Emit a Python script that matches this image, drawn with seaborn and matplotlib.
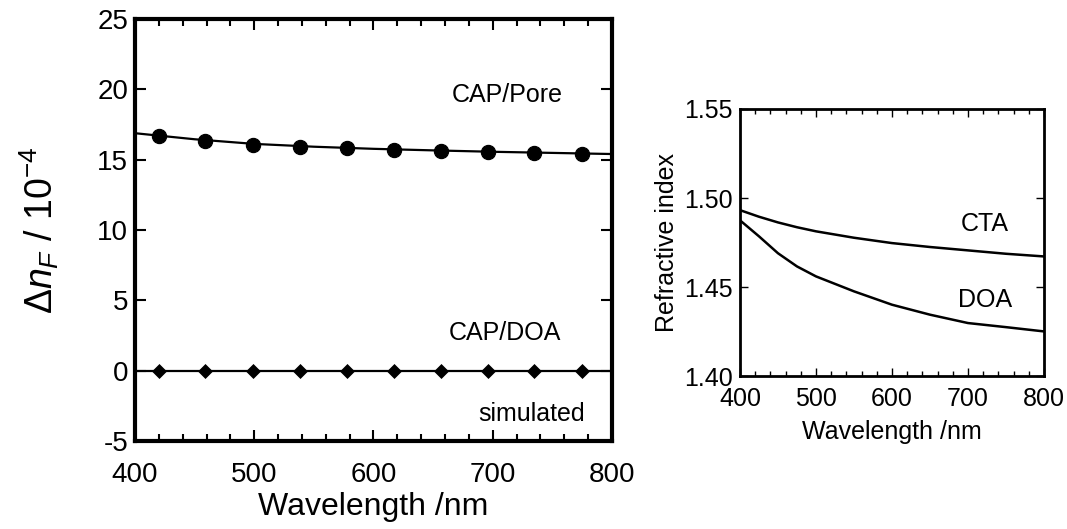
import matplotlib
matplotlib.use("Agg")
import matplotlib.pyplot as plt
import seaborn as sns
import pandas as pd
from matplotlib.ticker import MultipleLocator

# ---- Left panel data ----
wl_pts = [420, 459, 499, 538, 578, 617, 657, 696, 735, 775]
pore_pts = [16.66, 16.36, 16.07, 15.93, 15.81, 15.71, 15.59, 15.55, 15.46, 15.43]
doa_pts = [0, 0, 0, 0, 0, 0, 0, 0, 0, 0]
wl_fit = [400, 450, 500, 550, 600, 650, 700, 750, 800]
pore_fit = [16.88, 16.45, 16.12, 15.92, 15.77, 15.66, 15.56, 15.48, 15.40]
sim_fit = [0, 0, 0, 0, 0, 0, 0, 0, 0]

# ---- Right panel data ----
wl_ri = [400, 425, 450, 475, 500, 550, 600, 650, 700, 750, 800]
cta_ri = [1.4932, 1.4895, 1.4863, 1.4836, 1.4813, 1.4777, 1.4747, 1.4725, 1.4706, 1.4687, 1.4672]
doa_ri = [1.4875, 1.4785, 1.4690, 1.4616, 1.4560, 1.4476, 1.4401, 1.4345, 1.4298, 1.4275, 1.4251]

sns.set_theme(style="ticks")
plt.rcParams['font.family'] = ['Liberation Sans', 'DejaVu Sans']
plt.rcParams['mathtext.fontset'] = 'custom'
plt.rcParams['mathtext.rm'] = 'Liberation Sans'
plt.rcParams['mathtext.it'] = 'Liberation Sans:italic'
plt.rcParams['mathtext.default'] = 'regular'
plt.rcParams['axes.unicode_minus'] = False
plt.rcParams['text.color'] = 'black'

fig = plt.figure(figsize=(10.67, 5.29), dpi=100)
ax1 = fig.add_axes([0.1265, 0.1664, 0.447, 0.7977])
ax2 = fig.add_axes([0.6935, 0.289, 0.2849, 0.505])

# Left panel
df_fit = pd.DataFrame({"wl": wl_fit, "pore": pore_fit, "sim": sim_fit})
df_pts = pd.DataFrame({"wl": wl_pts, "pore": pore_pts, "doa": doa_pts})
sns.lineplot(data=df_fit, x="wl", y="pore", ax=ax1, color="black", lw=1.6)
sns.lineplot(data=df_fit, x="wl", y="sim", ax=ax1, color="black", lw=1.6)
sns.scatterplot(data=df_pts, x="wl", y="pore", ax=ax1, color="black", marker="o",
                s=105, edgecolor="black", zorder=5)
sns.scatterplot(data=df_pts, x="wl", y="doa", ax=ax1, color="black", marker="D",
                s=50, edgecolor="black", zorder=5)
ax1.set_xlim(400, 800)
ax1.set_ylim(-5, 25)
ax1.xaxis.set_major_locator(MultipleLocator(100))
ax1.xaxis.set_minor_locator(MultipleLocator(20))
ax1.yaxis.set_major_locator(MultipleLocator(5))
ax1.tick_params(which="both", direction="in", top=True, right=True, width=1.5,
                labelsize=20, pad=5, colors="black")
ax1.tick_params(axis="x", which="both", pad=15)
ax1.tick_params(which="major", length=8)
ax1.tick_params(which="minor", length=5)
for sp in ax1.spines.values():
    sp.set_linewidth(3)
    sp.set_color("black")
ax1.set_xlabel("Wavelength /nm", fontsize=23, labelpad=3, color="black")
ax1.set_ylabel(r"$\Delta\mathit{n}_{\mathit{F}}$ / 10$^{-4}$", fontsize=27, labelpad=26,
               color="black")
ax1.text(712, 19.6, "CAP/Pore", fontsize=18, ha="center", va="center", color="black")
ax1.text(710, 2.7, "CAP/DOA", fontsize=18, ha="center", va="center", color="black")
ax1.text(733, -3.1, "simulated", fontsize=18, ha="center", va="center", color="black")

# Right panel
df_ri = pd.DataFrame({"wl": wl_ri, "cta": cta_ri, "doa": doa_ri})
sns.lineplot(data=df_ri, x="wl", y="cta", ax=ax2, color="black", lw=1.8)
sns.lineplot(data=df_ri, x="wl", y="doa", ax=ax2, color="black", lw=1.8)
ax2.set_xlim(400, 800)
ax2.set_ylim(1.40, 1.55)
ax2.xaxis.set_major_locator(MultipleLocator(100))
ax2.xaxis.set_minor_locator(MultipleLocator(20))
ax2.yaxis.set_major_locator(MultipleLocator(0.05))
ax2.yaxis.set_major_formatter(matplotlib.ticker.FormatStrFormatter("%.2f"))
ax2.tick_params(which="both", direction="in", top=True, right=True, width=1.0,
                labelsize=18, pad=5, colors="black")
ax2.tick_params(axis="x", which="both", pad=8)
ax2.tick_params(which="major", length=6)
ax2.tick_params(which="minor", length=3.5)
for sp in ax2.spines.values():
    sp.set_linewidth(2)
    sp.set_color("black")
ax2.set_xlabel("Wavelength /nm", fontsize=18, labelpad=6, color="black")
ax2.set_ylabel("Refractive index", fontsize=18, labelpad=4, color="black")
ax2.text(722, 1.4855, "CTA", fontsize=18, ha="center", va="center", color="black")
ax2.text(722, 1.4430, "DOA", fontsize=18, ha="center", va="center", color="black")

fig.savefig("out.png", dpi=100)
